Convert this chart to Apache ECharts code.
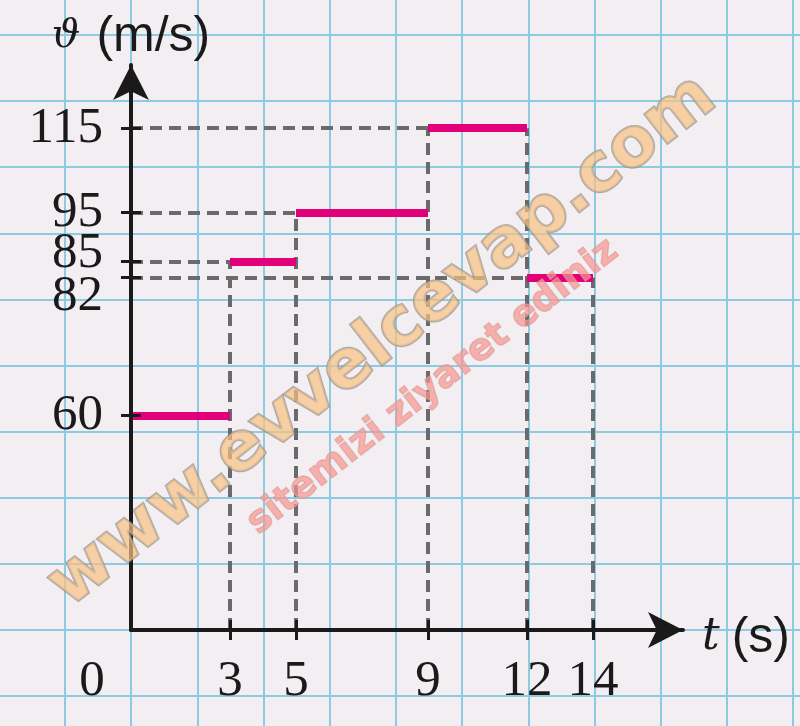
<!DOCTYPE html>
<html>
<head>
<meta charset="utf-8">
<script src="https://cdn.jsdelivr.net/npm/echarts@6/dist/echarts.min.js"></script>
<style>
html,body{margin:0;padding:0;background:#f2eef2;}
#c{width:800px;height:726px;}
</style>
</head>
<body>
<div id="c"></div>
<script>
// ---- data ----
const segStart = [0, 3, 5, 9, 12];
const segEnd   = [3, 5, 9, 12, 14];
const speeds   = [60, 85, 95, 115, 82];
const xTickLabels = [0, 3, 5, 9, 12, 14];
const xTicks = [3, 5, 9, 12, 14];
const yTicks = [60, 82, 85, 95, 115];

const Y_MIN = 36.9, Y_MAX = 132.7;
const X_MIN = 0, X_MAX = 16.727;

// pink segments
const segLines = speeds.map((v, i) => ({ coords: [[segStart[i], v], [segEnd[i], v]] }));
// dashed guide lines
const guides = [];
speeds.forEach((v, i) => {
  if (segStart[i] > 0) guides.push({ coords: [[0, v], [segStart[i], v]] });
});
const bounds = Array.from(new Set(segStart.concat(segEnd))).filter(b => b > 0);
bounds.forEach(b => {
  let top = -Infinity;
  speeds.forEach((v, i) => { if (segStart[i] === b || segEnd[i] === b) top = Math.max(top, v); });
  guides.push({ coords: [[b, Y_MIN], [b, top]] });
});

const INK = '#1a1a1a';
const SERIF = 'Liberation Serif';
const labelFont = { fontFamily: SERIF, fontSize: 51, color: INK };

const chart = echarts.init(document.getElementById('c'), null, { renderer: 'canvas' });
chart.setOption({
  animation: false,
  backgroundColor: '#f2eef2',
  grid: [
    { left: 131, top: 65, width: 552, height: 565, outerBoundsMode: 'none', containLabel: false },
    { left: -1.2, top: -31.1, width: 860.6, height: 793.2, outerBoundsMode: 'none', containLabel: false },
    { left: 131, top: 65, width: 552, height: 565, outerBoundsMode: 'none', containLabel: false }
  ],
  xAxis: [
    {
      gridIndex: 0, type: 'value', min: X_MIN, max: X_MAX, z: 5,
      name: '{t|t}{p|(s)}', nameLocation: 'end', nameGap: 19,
      nameTextStyle: {
        padding: [16, 0, 0, 0],
        rich: {
          t: { fontFamily: 'DejaVu Serif', fontStyle: 'italic', fontSize: 44, color: INK, padding: [0, 12, 0, 0] },
          p: { fontFamily: 'Liberation Sans', fontSize: 50, color: INK }
        }
      },
      axisLine: { show: true, onZero: false, symbol: ['none', 'arrow'], symbolSize: [27, 35], lineStyle: { color: INK, width: 4 } },
      axisTick: { show: true, length: 10, customValues: xTicks, lineStyle: { color: INK, width: 3 } },
      axisLabel: {
        show: true, customValues: xTickLabels, margin: 26, ...labelFont,
        formatter: v => v === 0 ? '{z|0}' : String(v),
        rich: { z: { padding: [0, 78, 0, 0], ...labelFont } }
      },
      splitLine: { show: false }
    },
    {
      gridIndex: 1, type: 'value', min: 0, max: 13, interval: 1, z: 0,
      axisLine: { show: false }, axisTick: { show: false }, axisLabel: { show: false },
      splitLine: { show: true, lineStyle: { color: '#8ccbe0', width: 2 } }
    },
    {
      gridIndex: 2, type: 'value', min: X_MIN, max: X_MAX, z: 5,
      axisLine: { show: false },
      axisTick: { show: true, inside: true, length: 10, customValues: xTicks, lineStyle: { color: INK, width: 3 } },
      axisLabel: { show: false }, splitLine: { show: false }
    }
  ],
  yAxis: [
    {
      gridIndex: 0, type: 'log', min: Y_MIN, max: Y_MAX, z: 5,
      name: '{th|ϑ}{p|(m/s)}', nameLocation: 'end', nameGap: 3,
      nameTextStyle: {
        rich: {
          th: { fontFamily: 'DejaVu Serif', fontStyle: 'italic', fontSize: 40, color: INK, padding: [0, 16, 0, 0] },
          p: { fontFamily: 'Liberation Sans', fontSize: 50, color: INK }
        }
      },
      axisLine: { show: true, onZero: false, symbol: ['none', 'arrow'], symbolSize: [27, 35], lineStyle: { color: INK, width: 4 } },
      axisTick: { show: true, length: 10, customValues: yTicks, lineStyle: { color: INK, width: 3 } },
      axisLabel: {
        show: true, customValues: yTicks, margin: 28, ...labelFont,
        formatter: v => v === 85 ? '{up|85}' : (v === 82 ? '{dn|82}' : String(v)),
        rich: {
          up: { padding: [0, 0, 16, 0], ...labelFont },
          dn: { padding: [38, 0, 0, 0], ...labelFont }
        }
      },
      splitLine: { show: false }, minorTick: { show: false }
    },
    {
      gridIndex: 1, type: 'value', min: 0, max: 12, interval: 1, z: 0,
      axisLine: { show: false }, axisTick: { show: false }, axisLabel: { show: false },
      splitLine: { show: true, lineStyle: { color: '#8ccbe0', width: 2 } }
    },
    {
      gridIndex: 2, type: 'log', min: Y_MIN, max: Y_MAX, z: 5,
      axisLine: { show: false },
      axisTick: { show: true, inside: true, length: 10, customValues: yTicks, lineStyle: { color: INK, width: 3 } },
      axisLabel: { show: false }, splitLine: { show: false }
    }
  ],
  series: [
    {
      type: 'lines', coordinateSystem: 'cartesian2d', xAxisIndex: 0, yAxisIndex: 0,
      silent: true, z: 2, data: guides,
      lineStyle: { color: '#6a6a6a', width: 4, type: [12, 7], opacity: 1, cap: 'butt' }
    },
    {
      type: 'lines', coordinateSystem: 'cartesian2d', xAxisIndex: 0, yAxisIndex: 0,
      silent: true, z: 3, data: segLines,
      lineStyle: { color: '#e2007a', width: 8, type: 'solid', opacity: 1, cap: 'butt' }
    }
  ],
  graphic: [
    {
      type: 'text', x: 383, y: 342, rotation: 0.66, z: 100, silent: true,
      style: {
        text: 'www.evvelcevap.com', fontFamily: 'DejaVu Sans', fontWeight: 'bold', fontSize: 68,
        fill: '#f8c284', stroke: '#8f8f8f', lineWidth: 2.5, align: 'center', verticalAlign: 'middle', opacity: 0.7
      }
    },
    {
      type: 'text', x: 433, y: 387, rotation: 0.66, z: 100, silent: true,
      style: {
        text: 'sitemizi ziyaret ediniz', fontFamily: 'DejaVu Sans', fontWeight: 'bold', fontSize: 37,
        fill: '#f6958f', stroke: '#d9a0a0', lineWidth: 1.5, align: 'center', verticalAlign: 'middle', opacity: 0.7
      }
    }
  ]
});
</script>
</body>
</html>
